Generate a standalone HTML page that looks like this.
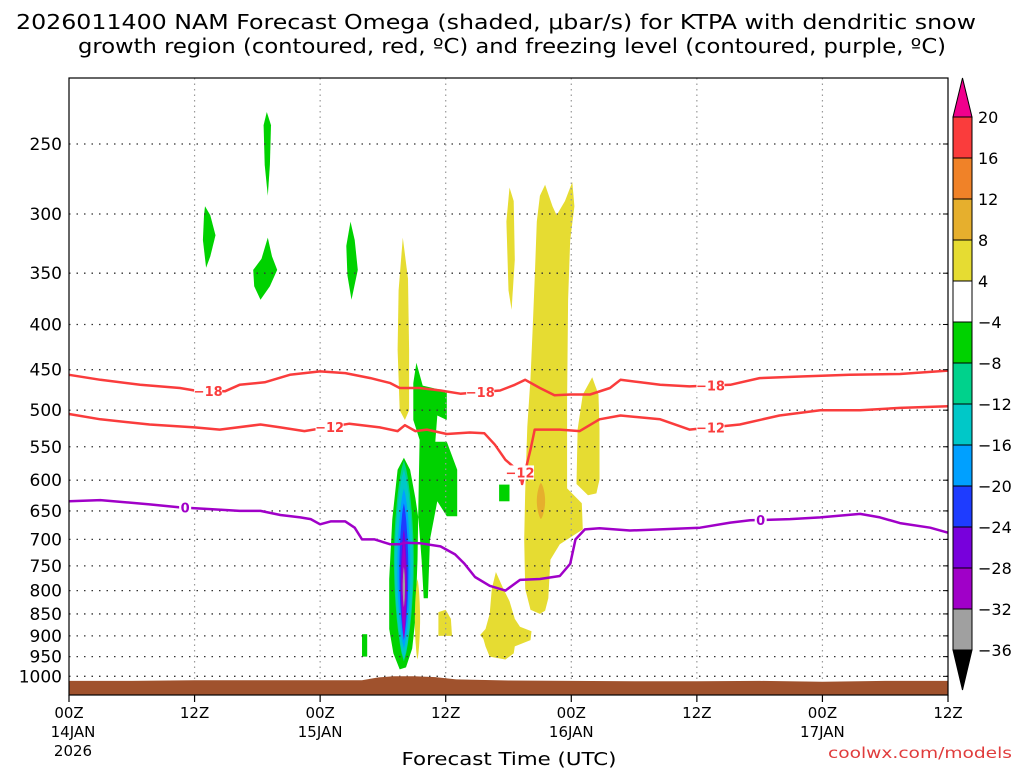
<!DOCTYPE html>
<html><head><meta charset="utf-8"><style>
html,body{margin:0;padding:0;background:#fff;width:1024px;height:768px;overflow:hidden}
svg{display:block;font-family:"DejaVu Sans","Liberation Sans",sans-serif}
</style></head><body>
<svg id="chart" width="1024" height="768" viewBox="0 0 1024 768" xmlns="http://www.w3.org/2000/svg">
<text x="496" y="29" font-size="20" text-anchor="middle" textLength="960" lengthAdjust="spacingAndGlyphs" fill="#000">2026011400 NAM Forecast Omega (shaded, μbar/s) for KTPA with dendritic snow</text>
<text x="512" y="53" font-size="20" text-anchor="middle" textLength="868" lengthAdjust="spacingAndGlyphs" fill="#000">growth region (contoured, red, ºC) and freezing level (contoured, purple, ºC)</text>
<g id="shades"></g>
<g id="grid"></g>
<g id="terrain"></g>
<g id="contours"></g>
<g id="axes"></g>
<g id="cbar"></g>
<text x="509" y="765" font-size="18" text-anchor="middle" textLength="215" lengthAdjust="spacingAndGlyphs" fill="#000">Forecast Time (UTC)</text>
<text x="1012" y="758" font-size="15" text-anchor="end" textLength="184" lengthAdjust="spacingAndGlyphs" fill="#e03c3c">coolwx.com/models</text>
</svg>
<script>
// ---- data ----
const yTicks=[250,300,350,400,450,500,550,600,650,700,750,800,850,900,950,1000];
const xTickHours=[0,12,24,36,48,60,72,84];
const xTickLabels=[["00Z","14JAN","2026"],["12Z"],["00Z","15JAN"],["12Z"],["00Z","16JAN"],["12Z"],["00Z","17JAN"],["12Z"]];
const m18Hours=[0,3,6.8,10.6,12,14.9,16.3,18.7,21.1,24,26.4,28.8,30.7,31.6,33.5,35.5,37.4,41.2,42.6,43.6,45,46.4,47.9,49.8,51.7,52.7,54.6,56.5,59.3,63.2,66,69.9,74.6,79.4,84];
const m18Press=[456,462,468,472,475,476,468,465,456,452,454,460,466,472,472,475,479,475,468,462,472,481,480,480,472,462,465,468,470,468,460,458,456,455,451];
const m12Hours=[0,3,7.7,12,14.4,18.3,20.2,22.5,26.8,29.7,31.4,32.1,33.1,34.2,36.1,38.3,39.7,40.7,41.7,43.1,43.3,44.1,44.5,46.9,48.8,50.7,52.7,56.5,59.3,64.1,67.9,71.8,75.6,79.4,84];
const m12Press=[505,512,519,523,526,519,523,528,518,523,528,520,528,526,532,530,531,547,569,588,606,554,526,526,528,512,507,512,526,519,507,500,500,497,495];
const frzHours=[0,3,7.7,10.6,13.5,16.3,18.3,20.2,22.1,23.1,24,25,26.4,27.3,28,29.2,30.7,31.6,32.1,33.5,35.5,36.9,37.8,38.8,40.2,41.7,43.1,45,46.9,47.9,48.4,49.3,50.7,53.6,56.5,60.3,63.2,65.1,68.9,71.8,75.6,77.5,79.4,82.3,84];
const frzPress=[634,632,639,644,647,650,650,657,661,664,673,668,668,679,700,700,709,709,706,707,713,728,746,772,790,800,778,776,770,746,700,682,680,684,682,679,670,666,664,661,655,661,671,679,688];
const m18LabelHours=[13.3,39.3,61.3];
const m12LabelHours=[24.9,43.1,61.3];
const frzLabelHours=[11.1,66.1];
const surfHours=[0,6,12,18,24,28,29.5,31,33,35,37,42,48,54,60,66,72,78,84];
const surfPress=[1012,1012,1010,1010,1010,1010,1003,1000,1000,1002,1008,1011,1012,1013,1013,1012,1014,1012,1012];
// omega polygons: [hour, hPa]
const greenPolys=[
 [[18.9,230],[19.3,238],[19.2,264],[19.0,286],[18.7,264],[18.6,238]],
 [[13.0,294],[13.5,301],[14.0,317],[13.5,335],[13.1,345],[12.8,321],[12.9,301]],
 [[19.0,319],[19.4,335],[19.9,347],[19.2,362],[18.3,375],[17.7,362],[17.6,347],[18.4,337]],
 [[26.9,306],[27.3,321],[27.6,347],[27.0,375],[26.6,352],[26.5,326]],
 [[33.2,442],[33.8,469],[36.1,476],[36.1,513],[35.2,507],[35.0,543],[36.1,543],[37.1,584],[37.1,659],[36.1,659],[35.2,634],[34.5,700],[34.3,816],[33.9,816],[33.7,738],[33.4,664],[33.1,629],[32.6,584],[32.0,566],[31.4,584],[30.9,664],[30.6,776],[30.6,884],[31.0,942],[31.6,982],[32.2,977],[32.8,930],[33.1,861],[33.3,738],[33.4,629],[33.5,540],[32.9,513],[32.9,466]],
 [[41.1,607],[42.1,607],[42.1,634],[41.1,634]],
 [[28.0,896],[28.5,896],[28.5,950],[28.0,950]]
];
const yellowPolys=[
 [[31.9,319],[32.4,355],[32.5,427],[32.5,500],[32.1,513],[31.6,500],[31.4,427],[31.5,366]],
 [[42.1,280],[42.5,290],[42.6,338],[42.3,385],[42.0,366],[41.8,306]],
 [[45.5,278],[46.2,294],[46.6,301],[47.4,290],[48.1,276],[48.3,294],[47.9,321],[47.7,375],[47.6,487],[47.6,613],[49.0,637],[49.1,682],[46.9,709],[46.0,738],[45.8,816],[45.5,843],[45.0,850],[44.1,841],[43.6,796],[43.5,700],[43.6,618],[43.8,522],[44.1,460],[44.3,406],[44.5,355],[44.7,306],[45.0,286]],
 [[50.0,459],[50.6,480],[50.7,526],[50.7,599],[50.4,621],[49.6,624],[48.5,606],[48.6,526],[49.1,480]],
 [[40.8,762],[41.5,796],[42.1,822],[42.6,861],[43.1,879],[44.2,889],[44.1,910],[42.6,925],[42.5,942],[41.7,957],[40.2,950],[39.8,925],[39.6,907],[39.3,898],[39.8,884],[40.2,850],[40.4,796]],
 [[35.3,846],[36.0,841],[36.5,861],[36.6,900],[35.3,900]]
];
// lens cores: center hour, half-width hours, top hPa, bottom hPa, colour
const coreHours=[33.3,45.1,32.0,32.0,32.0,32.0,32.0,32.0,32.0];
const coreWidths=[0.25,0.4,0.95,0.86,0.62,0.43,0.29,0.22,0.11];
const coreTops=[776,604,570,584,613,637,682,700,752];
const coreBottoms=[957,664,962,957,930,907,896,910,835];
const coreColors=["#e6dc32","#e6af2d","#00d28c","#00c8c8","#00a0ff","#1e3cff","#7800dc","#a000c8","#a0a0a0"];
const cbarLabels=["20","16","12","8","4","−4","−8","−12","−16","−20","−24","−28","−32","−36"];
const cbarColors=["#fa3c3c","#f08228","#e6af2d","#e6dc32","#ffffff","#00d200","#00d28c","#00c8c8","#00a0ff","#1e3cff","#7800dc","#a000c8","#a0a0a0"];

// ---- axes ----
const L=69,R=948,T=78,B=695;
const X=h=>L+h*(R-L)/84;
const Y=p=>144+384*Math.log(p/250);
const NS="http://www.w3.org/2000/svg";
function mk(tag,attrs,parent){const e=document.createElementNS(NS,tag);for(const k in attrs)e.setAttribute(k,attrs[k]);parent.appendChild(e);return e;}
const pts=a=>a.map(d=>X(d[0]).toFixed(1)+","+Y(d[1]).toFixed(1)).join(" ");
function lens(h,w,top,bot){const out=[];const n=24;
 for(let i=0;i<=n;i++){const s=i/n;out.push([h+w*Math.pow(Math.sin(Math.PI*s),0.7),top*Math.pow(bot/top,s)]);}
 for(let i=n;i>=0;i--){const s=i/n;out.push([h-w*Math.pow(Math.sin(Math.PI*s),0.7),top*Math.pow(bot/top,s)]);}
 return out;}

const shades=document.getElementById('shades');
greenPolys.forEach(p=>{const e=mk('polygon',{points:pts(p),fill:"#00d200"},shades);
 
 });
yellowPolys.forEach(p=>{const e=mk('polygon',{points:pts(p),fill:"#e6dc32"},shades);
 
 });
coreHours.forEach((h,i)=>{const e=mk('polygon',{points:pts(lens(h,coreWidths[i],coreTops[i],coreBottoms[i])),fill:coreColors[i]},shades);
 
 });

const grid=document.getElementById('grid');
yTicks.forEach(p=>{const e=mk('line',{x1:L,x2:R,y1:Y(p),y2:Y(p),stroke:"#333","stroke-width":1.3,"stroke-dasharray":"1.5,6"},grid);
 
 });
xTickHours.slice(1,-1).forEach(h=>{const e=mk('line',{x1:X(h),x2:X(h),y1:T,y2:B,stroke:"#999","stroke-width":1.2,"stroke-dasharray":"1.5,4"},grid);
 
 });

const terr=document.getElementById('terrain');
const tp=surfHours.map((h,i)=>[h,surfPress[i]]);
const tpoly=mk('polygon',{points:pts(tp)+" "+X(84)+","+B+" "+X(0)+","+B,fill:"#a0522d"},terr);



const cont=document.getElementById('contours');
function interp(hs,ps,h){for(let i=0;i<hs.length-1;i++){if(h>=hs[i]&&h<=hs[i+1]){const t=(h-hs[i])/(hs[i+1]-hs[i]);return Math.exp(Math.log(ps[i])*(1-t)+Math.log(ps[i+1])*t);}}return ps[ps.length-1];}
function drawLine(hs,ps,col,name,labH,lab){
 const e=mk('polyline',{points:pts(hs.map((h,i)=>[h,ps[i]])),fill:"none",stroke:col,"stroke-width":2.5,"stroke-linejoin":"round"},cont);
 
 
 labH.forEach(h=>{const x=X(h),y=Y(interp(hs,ps,h));const w=lab.length*8+4;
  const r=mk('rect',{x:x-w/2,y:y-7,width:w,height:14,fill:"#fff"},cont);
  
  
  const t=mk('text',{x:x,y:y+5,"font-size":13,"font-weight":"bold","text-anchor":"middle",fill:col},cont);
  
  
  t.textContent=lab;});
}
drawLine(m18Hours,m18Press,"#fa3c3c","contour-minus-18",m18LabelHours,"−18");
drawLine(m12Hours,m12Press,"#fa3c3c","contour-minus-12",m12LabelHours,"−12");
drawLine(frzHours,frzPress,"#a000c8","freezing-level",frzLabelHours,"0");

const ax=document.getElementById('axes');
const fr=mk('rect',{x:L,y:T,width:R-L,height:B-T,fill:"none",stroke:"#000","stroke-width":1.2},ax);


yTicks.forEach(p=>{const t=mk('text',{x:62,y:Y(p)+6,"font-size":17,"text-anchor":"end",fill:"#000"},ax);
 
 
 t.textContent=String(p);
 const k=mk('line',{x1:R-5,x2:R,y1:Y(p),y2:Y(p),stroke:"#000"},ax);
 
 });
xTickHours.forEach((h,i)=>{const k=mk('line',{x1:X(h),x2:X(h),y1:B,y2:B+7,stroke:"#000","stroke-width":1.2},ax);
 
 
 xTickLabels[i].forEach((s,j)=>{const t=mk('text',{x:X(h)+(j>0&&i===0?4:0),y:718+j*19,"font-size":15,"text-anchor":"middle",fill:"#000"},ax);
  
  
  t.textContent=s;});});

const cb=document.getElementById('cbar');
const cx=953,cw=19,c0=117,ch=(650-117)/13;
const tt=mk('polygon',{points:`${cx},${c0} ${cx+cw},${c0} ${cx+cw/2},78`,fill:"#f0008c",stroke:"#000"},cb);


cbarColors.forEach((c,i)=>{const r=mk('rect',{x:cx,y:c0+i*ch,width:cw,height:ch,fill:c,stroke:"#000","stroke-width":1},cb);
 
 });
const bt=mk('polygon',{points:`${cx},650 ${cx+cw},650 ${cx+cw/2},690`,fill:"#000",stroke:"#000"},cb);


cbarLabels.forEach((s,i)=>{const t=mk('text',{x:978,y:c0+i*ch+6,"font-size":16,fill:"#000"},cb);
 
 
 t.textContent=s;});
</script>
</body></html>
